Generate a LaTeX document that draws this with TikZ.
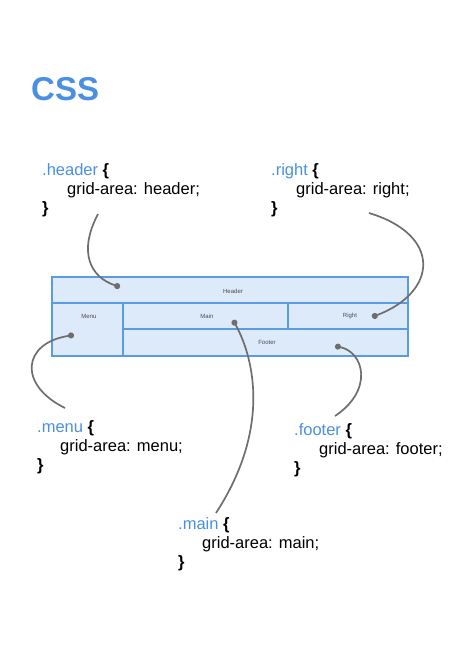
\documentclass[tikz,border=0pt]{standalone}
\usepackage{fontspec}
\setmainfont{Liberation Sans}
\usetikzlibrary{arrows.meta}
\definecolor{cssblue}{HTML}{4A90E2}
\definecolor{cellfill}{HTML}{DDEAF9}
\definecolor{cellline}{HTML}{5A9BE6}
\definecolor{linkgray}{HTML}{6E6E6E}
\tikzset{
  cell/.style={draw=cellline, fill=cellfill, line width=1.8pt},
  celltext/.style={font=\fontsize{6}{7}\selectfont, text=black!70},
  code/.style={anchor=base west, inner sep=0pt, font=\fontsize{16.5}{19}\selectfont},
  link/.style={draw=linkgray, line width=1.7pt, -{Circle[length=6pt,width=6pt]}},
}
\newcommand{\sel}[1]{\textcolor{cssblue}{#1}~\textbf{\{}}
\begin{document}
\begin{tikzpicture}[x=1pt,y=-1pt]
\useasboundingbox (0,0) rectangle (474,670);
% title
\node[anchor=base west, inner sep=0pt, text=cssblue, font=\fontsize{33}{38}\selectfont\bfseries] (title) at (31,100) {CSS};
% grid cells
\draw[cell] (52,277) rectangle (408,303);
\draw[cell] (52,303) rectangle (123,356);
\draw[cell] (123,303) rectangle (288,329);
\draw[cell] (288,303) rectangle (408,329);
\draw[cell] (123,329) rectangle (408,356);
\node[celltext] (hdr) at (233,291) {Header};
\node[celltext] (mnu) at (89,316) {Menu};
\node[celltext] (mn) at (207,316) {Main};
\node[celltext] (rgt) at (350,316) {Right};
\node[celltext] (ftr) at (267,342) {Footer};
% target points
\coordinate (hdrdot) at (120,287);
\coordinate (mndot) at (233,320);
\coordinate (rgtdot) at (372,317);
\coordinate (mnudot) at (74,335);
\coordinate (ftrdot) at (335,346);
% code blocks
\node[code] (h1) at (42,175) {\sel{.header}};
\node[code] (h2) at (67,194) {grid-area: header;};
\node[code] (h3) at (42,213) {\textbf{\}}};
\node[code] (r1) at (271,175) {\sel{.right}};
\node[code] (r2) at (296,194) {grid-area: right;};
\node[code] (r3) at (271,213) {\textbf{\}}};
\node[code] (m1) at (37,432) {\sel{.menu}};
\node[code] (m2) at (60,451) {grid-area: menu;};
\node[code] (m3) at (37,470) {\textbf{\}}};
\node[code] (f1) at (294,435) {\sel{.footer}};
\node[code] (f2) at (319,454) {grid-area: footer;};
\node[code] (f3) at (294,473) {\textbf{\}}};
\node[code] (a1) at (178,529) {\sel{.main}};
\node[code] (a2) at (202,548) {grid-area: main;};
\node[code] (a3) at (178,567) {\textbf{\}}};
% link starts
\coordinate (hs) at (98,214);
\coordinate (rs) at (369,213);
\coordinate (ms) at (65,408);
\coordinate (fs) at (335,416);
\coordinate (as) at (216,513);
% connectors
\draw[link] (hs) .. controls (78,252) and (90,277) .. (hdrdot);
\draw[link] (rs) .. controls (442,235) and (438,292) .. (rgtdot);
\draw[link] (ms) .. controls (18,385) and (22,343) .. (mnudot);
\draw[link] (fs) .. controls (374,390) and (364,352) .. (ftrdot);
\draw[link] (as) .. controls (270,430) and (255,360) .. (mndot);
\end{tikzpicture}
\end{document}
